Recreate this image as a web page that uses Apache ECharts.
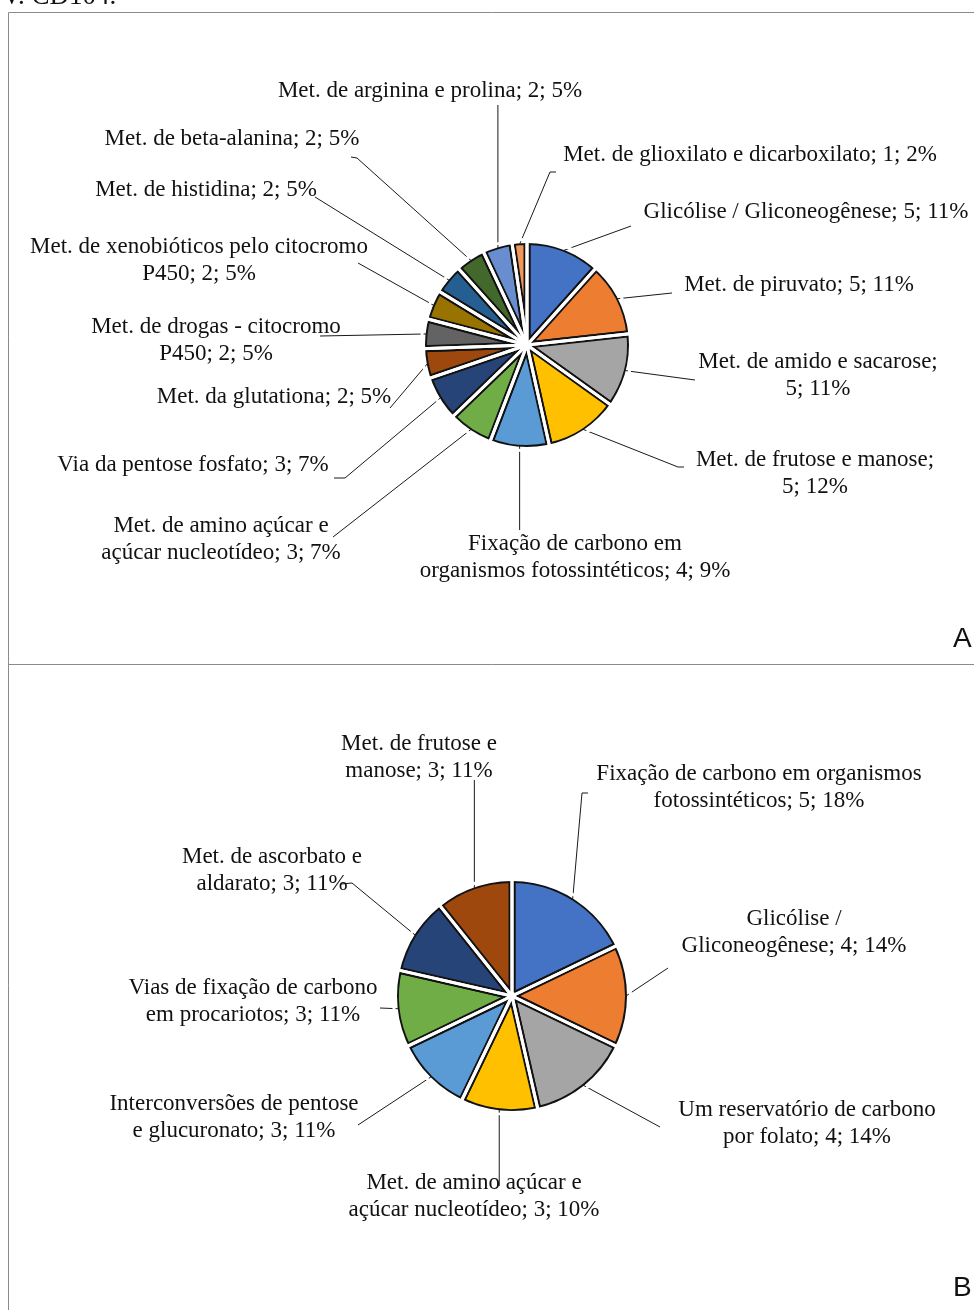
<!DOCTYPE html>
<html>
<head>
<meta charset="utf-8">
<script src="https://cdn.jsdelivr.net/npm/echarts@6/dist/echarts.min.js"></script>
<style>
  html, body { margin: 0; padding: 0; background: #ffffff; }
  #chart { width: 974px; height: 1310px; }
</style>
</head>
<body>
<div id="chart"></div>
<script>
// ---- Panel A: pathways, number of genes and share ----
const catsA = [
  'Glicólise / Gliconeogênese',
  'Met. de piruvato',
  'Met. de amido e sacarose',
  'Met. de frutose e manose',
  'Fixação de carbono em\norganismos fotossintéticos',
  'Met. de amino açúcar e\naçúcar nucleotídeo',
  'Via da pentose fosfato',
  'Met. da glutationa',
  'Met. de drogas - citocromo\nP450',
  'Met. de xenobióticos pelo citocromo\nP450',
  'Met. de histidina',
  'Met. de beta-alanina',
  'Met. de arginina e prolina',
  'Met. de glioxilato e dicarboxilato'
];
const valsA = [5, 5, 5, 5, 4, 3, 3, 2, 2, 2, 2, 2, 2, 1];
const pctA = [11, 11, 11, 12, 9, 7, 7, 5, 5, 5, 5, 5, 5, 2];

// ---- Panel B ----
const catsB = [
  'Fixação de carbono em organismos\nfotossintéticos',
  'Glicólise /\nGliconeogênese',
  'Um reservatório de carbono\npor folato',
  'Met. de amino açúcar e\naçúcar nucleotídeo',
  'Interconversões de pentose\ne glucuronato',
  'Vias de fixação de carbono\nem procariotos',
  'Met. de ascorbato e\naldarato',
  'Met. de frutose e\nmanose'
];
const valsB = [5, 4, 4, 3, 3, 3, 3, 3];
const pctB = [18, 14, 14, 10, 11, 11, 11, 11];

// Office-style slice palette
const palette = ['#4472C4', '#ED7D31', '#A5A5A5', '#FFC000', '#5B9BD5', '#70AD47',
                 '#264478', '#9E480E', '#636363', '#997300', '#255E91', '#43682B',
                 '#698ED0', '#F1975A'];

// Label placement: text centre, leader line end points, optional wrap after name
const placeA = [
  { x: 806, y: 212, end: [[631, 226]] },
  { x: 799, y: 285, end: [[672, 293]] },
  { x: 818, y: 375, end: [[695, 380]], wrap: true },
  { x: 815, y: 473, end: [[678, 467], [684, 467]], wrap: true },
  { x: 575, y: 557, end: [[null, 530]] },
  { x: 221, y: 539, end: [[333, 537]] },
  { x: 193, y: 465, end: [[345, 478], [334, 478]] },
  { x: 274, y: 397, end: [[390, 408]] },
  { x: 216, y: 340, end: [[320, 336]] },
  { x: 199, y: 260, end: [[358, 263]] },
  { x: 206, y: 190, end: [[315, 197]] },
  { x: 232, y: 139, end: [[357, 158], [351, 157]] },
  { x: 430, y: 91, end: [[null, 105]] },
  { x: 750, y: 155, end: [[550, 172], [556, 172]] }
];
const placeB = [
  { x: 759, y: 787, end: [[582, 793], [588, 793]] },
  { x: 794, y: 932, end: [[668, 968]] },
  { x: 807, y: 1123, end: [[660, 1127]] },
  { x: 474, y: 1196, end: [[null, 1186]] },
  { x: 234, y: 1117, end: [[358, 1125]] },
  { x: 253, y: 1001, end: [[380, 1008]] },
  { x: 272, y: 870, end: [[352, 883], [341, 884]] },
  { x: 419, y: 757, end: [[null, 780]] }
];

const OUTLINE = 7;     // dark stroke centred on every slice edge
const GAP = 3;         // white split between neighbouring slices
const TRIM = 1.5;      // outline part kept outside the coloured area: OUTLINE/2 - TRIM

function labelText(names, vals, pcts, place) {
  return function (p) {
    const i = p.dataIndex;
    const sep = place[i].wrap ? ';\n' : '; ';
    return names[i] + sep + vals[i] + '; ' + pcts[i] + '%';
  };
}

function labelPlacer(place, center, edgeR) {
  return function (params) {
    const pl = place[params.dataIndex];
    const pts = [];
    if (params.labelLinePoints && params.labelLinePoints.length) {
      const s = params.labelLinePoints[0];
      const dx = s[0] - center[0], dy = s[1] - center[1];
      const len = Math.sqrt(dx * dx + dy * dy) || 1;
      const start = [center[0] + dx / len * edgeR, center[1] + dy / len * edgeR];
      pts.push(start);
      pl.end.forEach(function (e) {
        pts.push([e[0] == null ? start[0] : e[0], e[1]]);
      });
    }
    const out = { x: pl.x, y: pl.y, align: 'center', verticalAlign: 'middle' };
    if (pts.length) out.labelLinePoints = pts;
    return out;
  };
}

// Filled slices with a thick dark outline
function fillSeries(names, vals, center, radius) {
  return {
    type: 'pie',
    center: center,
    radius: radius,
    startAngle: 90,
    clockwise: true,
    silent: true,
    animation: false,
    z: 2,
    data: names.map(function (n, i) {
      return { name: n, value: vals[i], itemStyle: { color: palette[i] } };
    }),
    itemStyle: { borderColor: '#121212', borderWidth: OUTLINE, borderJoin: 'round' },
    label: { show: false },
    labelLine: { show: false }
  };
}

// Same slices unfilled: white edges split neighbouring outlines; carries the labels
function labelSeries(names, vals, pcts, place, center, radius) {
  return {
    type: 'pie',
    center: center,
    radius: radius + 2,
    startAngle: 90,
    clockwise: true,
    avoidLabelOverlap: false,
    minShowLabelAngle: 0,
    silent: true,
    animation: false,
    z: 4,
    data: names.map(function (n, i) { return { name: n, value: vals[i] }; }),
    itemStyle: { color: 'rgba(0,0,0,0)', borderColor: '#ffffff', borderWidth: GAP, borderJoin: 'round' },
    label: {
      show: true,
      position: 'outside',
      formatter: labelText(names, vals, pcts, place),
      fontFamily: 'Liberation Serif',
      fontSize: 23,
      lineHeight: 27,
      color: '#111111'
    },
    labelLine: { show: true, length: 10, length2: 10, lineStyle: { color: '#1a1a1a', width: 1 } },
    labelLayout: labelPlacer(place, center, radius - TRIM - 1)
  };
}

const frame = '#8a8a8a';
const cA = [527, 345], cB = [512, 996];
const rA = 103.5, rB = 116.5;

function trimRing(c, r) {
  return { type: 'ring', shape: { cx: c[0], cy: c[1], r0: r - TRIM, r: r + OUTLINE }, style: { fill: '#ffffff' }, z: 3 };
}

const chart = echarts.init(document.getElementById('chart'), null, { renderer: 'canvas' });
chart.setOption({
  animation: false,
  backgroundColor: '#ffffff',
  graphic: [
    { type: 'line', shape: { x1: 8.5, y1: 12.5, x2: 974, y2: 12.5 }, style: { stroke: frame, lineWidth: 1 } },
    { type: 'line', shape: { x1: 8.5, y1: 12.5, x2: 8.5, y2: 1310 }, style: { stroke: frame, lineWidth: 1 } },
    { type: 'line', shape: { x1: 8.5, y1: 664.5, x2: 974, y2: 664.5 }, style: { stroke: frame, lineWidth: 1 } },
    trimRing(cA, rA),
    trimRing(cB, rB),
    { type: 'circle', shape: { cx: cA[0], cy: cA[1], r: 4 }, style: { fill: '#ffffff' }, z: 50 },
    { type: 'circle', shape: { cx: cB[0], cy: cB[1], r: 4 }, style: { fill: '#ffffff' }, z: 50 },
    { type: 'text', x: 2, y: 10, style: { text: 'V. CD104.', fill: '#111', fontSize: 27, fontFamily: 'Liberation Serif', align: 'left', verticalAlign: 'bottom' } },
    { type: 'text', x: 953, y: 625, style: { text: 'A', fill: '#111', fontSize: 28, fontFamily: 'Liberation Sans', align: 'left', verticalAlign: 'top' } },
    { type: 'text', x: 953, y: 1274, style: { text: 'B', fill: '#111', fontSize: 28, fontFamily: 'Liberation Sans', align: 'left', verticalAlign: 'top' } }
  ],
  series: [
    fillSeries(catsA, valsA, cA, rA),
    labelSeries(catsA, valsA, pctA, placeA, cA, rA),
    fillSeries(catsB, valsB, cB, rB),
    labelSeries(catsB, valsB, pctB, placeB, cB, rB)
  ]
});
</script>
</body>
</html>
